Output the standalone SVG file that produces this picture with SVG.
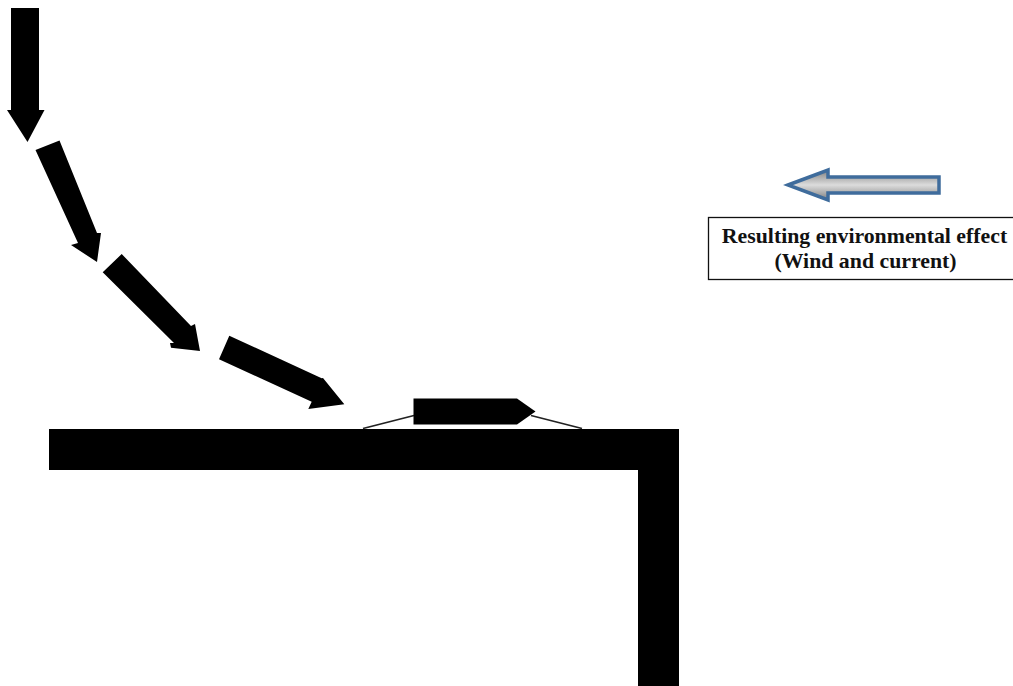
<svg xmlns="http://www.w3.org/2000/svg" width="1013" height="686" viewBox="0 0 1013 686">
<style>
.k{fill:#000}
.l{fill:none;stroke:#222;stroke-width:1.800}
text{font-family:"Liberation Serif","Times New Roman",serif;font-weight:bold;font-size:21.800px;text-anchor:middle;fill:#111}
</style>
<defs>
<linearGradient id="g" x1="0" y1="0" x2="0" y2="1">
<stop offset="0" stop-color="#808080"/><stop offset="0.5" stop-color="#dcdcdc"/><stop offset="1" stop-color="#808080"/>
</linearGradient>
</defs>
<rect width="1013" height="686" fill="#fff"/>
<g id="connectors">
<path class="l" d="M363 428.500L414 415.500"/>
<path class="l" d="M531 415.500L582 428.500"/>
</g>
<g id="wall"><path class="k" d="M49 429H679V686H638V470H49Z"/></g>
<g id="vessel"><path class="k" d="M413.500 398.500H517L535.500 411.500L517 424.500H413.500Z"/></g>
<g id="track-1"><path class="k" d="M11 8H39V110H44.500L27.500 142L7 110H11Z"/></g>
<g id="track-2"><path class="k" d="M35.500 150L59.500 140.500L97 233L101 233L97 262L71 245L78 243Z"/></g>
<g id="track-3"><path class="k" d="M102.700 272.300L121.700 254L191 326L195 324L200 351L171 347.700L170 343L174 343Z"/></g>
<g id="track-4"><path class="k" d="M219 359.300L229.300 335.700L321.700 378.300L323 378L344.300 404.300L308.300 409L311.700 401.700Z"/></g>
<g id="effect-arrow"><path d="M788 185L828 170V177H939V193H828V200Z" fill="url(#g)" stroke="#3f6c9c" stroke-width="3.500"/></g>
<g id="effect-label">
<rect x="708.500" y="217.500" width="310" height="62" fill="#fff" stroke="#111" stroke-width="1.300"/>
<text x="864.500" y="243">Resulting environmental effect</text>
<text x="865.500" y="268">(Wind and current)</text>
</g>
</svg>
